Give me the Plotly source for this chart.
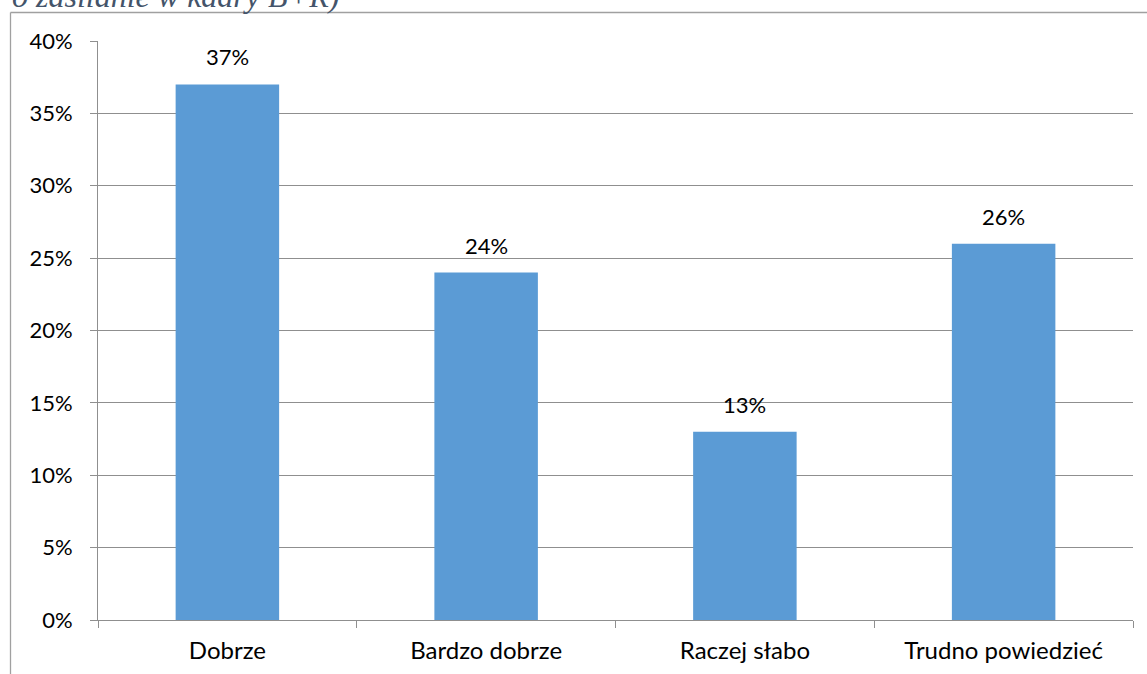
import plotly.graph_objects as go

categories = ["Dobrze", "Bardzo dobrze", "Raczej słabo", "Trudno powiedzieć"]
values = [0.37, 0.24, 0.13, 0.26]
labels = ["37%", "24%", "13%", "26%"]
title_text = "o zasilanie w kadry B+R)"

W, H = 1147, 674
L, R, T, B = 98, 14, 41, 54
pw, ph = W - L - R, H - T - B

def px_x(p):
    return (p - L) / pw

def px_y(p):
    return (H - B - p) / ph

FONT = "Lato"
FS = 22

fig = go.Figure()
fig.add_trace(go.Bar(
    x=categories, y=values, width=0.4,
    marker=dict(color="#5B9BD5", line=dict(width=0)),
    hoverinfo="skip",
))

for c, v, t in zip(categories, values, labels):
    fig.add_annotation(x=c, y=v, xref="x", yref="y", text=t, showarrow=False,
                       yanchor="bottom", yshift=12,
                       font=dict(family=FONT, size=FS, color="#000000"))

fig.add_annotation(x=px_x(10), y=px_y(12), xref="paper", yref="paper",
                   text="<i>" + title_text + "</i>", showarrow=False,
                   xanchor="left", yanchor="bottom", yshift=-4,
                   font=dict(family="Liberation Serif", size=32, color="#44546A"))

# outer frame (left and top)
fig.add_shape(type="line", xref="paper", yref="paper",
              x0=px_x(10.5), x1=px_x(10.5), y0=px_y(12.5), y1=px_y(H),
              line=dict(color="#A0A0A0", width=1.3))
fig.add_shape(type="line", xref="paper", yref="paper",
              x0=px_x(10.5), x1=px_x(W), y0=px_y(12.5), y1=px_y(12.5),
              line=dict(color="#A0A0A0", width=1.3))

fig.update_layout(
    width=W, height=H,
    margin=dict(l=L, r=R, t=T, b=B, pad=0, autoexpand=False),
    paper_bgcolor="white", plot_bgcolor="white",
    showlegend=False,
    font=dict(family=FONT, size=FS, color="#000000"),
    bargap=0.6,
)
fig.update_xaxes(
    showline=True, linecolor="#8F8F8F", linewidth=1,
    ticks="outside", tickson="boundaries", ticklen=7, tickcolor="#8F8F8F",
    showgrid=False, tickfont=dict(family=FONT, size=24),
    ticklabelstandoff=9, automargin=False,
)
fig.update_yaxes(
    range=[0, 0.40], dtick=0.05, tickformat=".0%",
    showline=True, linecolor="#8F8F8F", linewidth=1,
    ticks="outside", ticklen=7, tickcolor="#8F8F8F",
    showgrid=True, gridcolor="#8F8F8F", gridwidth=1,
    zeroline=False, tickfont=dict(family=FONT, size=FS),
    ticklabelstandoff=13, automargin=False,
)

fig.write_html("out.html", config={"displayModeBar": False},
               post_script="document.documentElement.style.overflow='hidden';"
                           "document.body.style.margin='0';document.body.style.overflow='hidden';")
